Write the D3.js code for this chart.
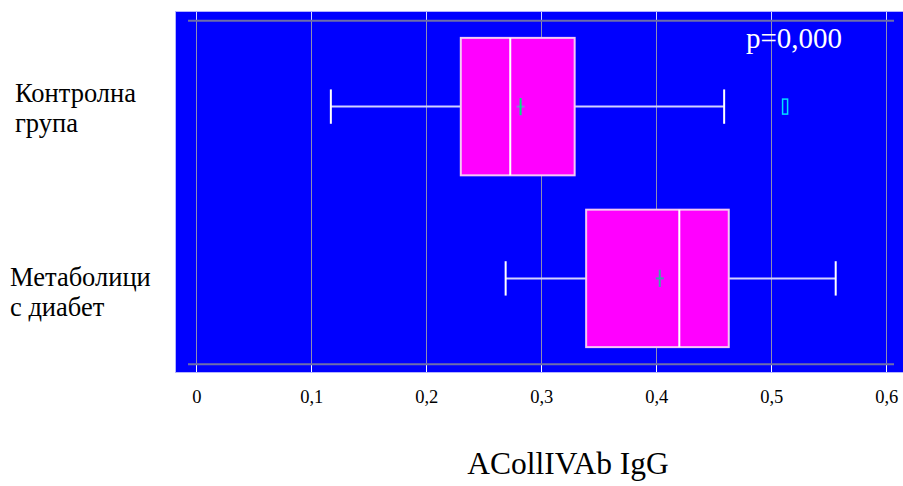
<!DOCTYPE html>
<html>
<head>
<meta charset="utf-8">
<script src="https://cdn.jsdelivr.net/npm/d3@7"></script>
<style>
  html, body { margin: 0; padding: 0; background: #ffffff; }
  svg { display: block; }
  text { font-family: "Liberation Serif", "DejaVu Serif", serif; }
</style>
</head>
<body>
<svg id="chart" width="903" height="486"></svg>
<script>
// Groups (one horizontal box per group), each label split over two lines
const groups = ["control", "diabetic"];
const groupLines = [["Контролна", "група"], ["Метаболици", "с диабет"]];

// Box-plot statistics per group
const whiskerLow  = [0.117, 0.269];
const quartile1   = [0.230, 0.339];
const medians     = [0.273, 0.420];
const quartile3   = [0.329, 0.463];
const whiskerHigh = [0.459, 0.556];
const means       = [0.282, 0.403];

// Outlying observations: [group index, value]
const outliers = [[0, 0.512]];

// Value axis
const xTicks = [0, 0.1, 0.2, 0.3, 0.4, 0.5, 0.6];
const xTitle = "ACollIVAb IgG";
const pText = "p=0,000";

const svg = d3.select("#chart");

const plot = { left: 175, top: 11, right: 903, bottom: 372 };

const x = d3.scaleLinear().domain([0, 0.6]).range([196.3, 886.3]);
const y = d3.scaleBand().domain(groups).range([20.7, 364.3]).padding(0);
const bw = y.bandwidth();
const boxH = bw * 0.8;
const capH = bw * 0.2;
const meanH = bw * 0.1;

// Plot background
svg.append("rect")
  .attr("x", plot.left + 0.5).attr("y", plot.top + 0.5)
  .attr("width", plot.right - plot.left).attr("height", plot.bottom - plot.top)
  .attr("fill", "#0000ff").attr("stroke", "#b4b4ff").attr("stroke-width", 1);

// Vertical gridlines with short white ticks at both ends
const grid = svg.append("g");
xTicks.forEach(t => {
  const xp = Math.round(x(t)) + 0.5;
  grid.append("line").attr("x1", xp).attr("x2", xp)
    .attr("y1", y.range()[0]).attr("y2", y.range()[1])
    .attr("stroke", "#8c8cb4").attr("stroke-width", 1);
  grid.append("line").attr("x1", xp).attr("x2", xp)
    .attr("y1", plot.top + 1).attr("y2", y.range()[0])
    .attr("stroke", "#d8d8ff").attr("stroke-width", 1);
  grid.append("line").attr("x1", xp).attr("x2", xp)
    .attr("y1", y.range()[1]).attr("y2", plot.bottom)
    .attr("stroke", "#ffffff").attr("stroke-width", 1);
});

// Horizontal frame lines bounding the categories
y.range().forEach(v => {
  grid.append("line").attr("x1", 188).attr("x2", 894)
    .attr("y1", v).attr("y2", v)
    .attr("stroke", "#6e6eaa").attr("stroke-width", 2);
});

// Axis tick labels (decimal comma)
const fmt = d => d === 0 ? "0" : d3.format(".1f")(d).replace(".", ",");
const xAxis = d3.axisBottom(x).tickValues(xTicks).tickFormat(fmt).tickSize(0).tickPadding(0);
const ax = svg.append("g").attr("transform", "translate(0,390)").call(xAxis);
ax.select(".domain").remove();
ax.selectAll("text")
  .attr("font-size", 18.5).attr("fill", "#000").attr("dy", "0.72em");

// Axis title
svg.append("text").attr("x", 568).attr("y", 474)
  .attr("text-anchor", "middle").attr("font-size", 31.5).attr("fill", "#000")
  .text(xTitle);

// Group labels
const labelIndent = [15, 10];
const labelBase = [-5, 8];
groups.forEach((g, i) => {
  const cy = y(g) + bw / 2;
  groupLines[i].forEach((line, j) => {
    svg.append("text")
      .attr("x", labelIndent[i]).attr("y", cy + labelBase[i] + j * 30)
      .attr("font-size", 26.5).attr("fill", "#000").text(line);
  });
});

// Boxes
const boxes = svg.append("g");
groups.forEach((g, i) => {
  const cy = y(g) + bw / 2;
  // whisker stems
  boxes.append("line").attr("x1", x(whiskerLow[i])).attr("x2", x(quartile1[i]))
    .attr("y1", cy).attr("y2", cy).attr("stroke", "#d2d2ff").attr("stroke-width", 2);
  boxes.append("line").attr("x1", x(quartile3[i])).attr("x2", x(whiskerHigh[i]))
    .attr("y1", cy).attr("y2", cy).attr("stroke", "#d2d2ff").attr("stroke-width", 2);
  // whisker caps
  [whiskerLow[i], whiskerHigh[i]].forEach(v => {
    boxes.append("line").attr("x1", x(v)).attr("x2", x(v))
      .attr("y1", cy - capH / 2).attr("y2", cy + capH / 2)
      .attr("stroke", "#ffffff").attr("stroke-width", 2);
  });
  // box
  boxes.append("rect")
    .attr("x", x(quartile1[i])).attr("y", cy - boxH / 2)
    .attr("width", x(quartile3[i]) - x(quartile1[i])).attr("height", boxH)
    .attr("fill", "#ff00ff").attr("stroke", "#f4c8f4").attr("stroke-width", 2);
  // median
  boxes.append("line").attr("x1", x(medians[i])).attr("x2", x(medians[i]))
    .attr("y1", cy - boxH / 2).attr("y2", cy + boxH / 2)
    .attr("stroke", "#ffffff").attr("stroke-width", 2);
  // mean marker
  const vCol = i === 0 ? "#00e080" : "#40a0a8";
  const hCol = i === 0 ? "#8c78d8" : "#40a0a8";
  boxes.append("line").attr("x1", x(means[i]) - 4).attr("x2", x(means[i]) + 4)
    .attr("y1", cy).attr("y2", cy).attr("stroke", hCol).attr("stroke-width", 2);
  boxes.append("line").attr("x1", x(means[i])).attr("x2", x(means[i]))
    .attr("y1", cy - meanH / 2).attr("y2", cy + meanH / 2)
    .attr("stroke", vCol).attr("stroke-width", 2);
});

// Outliers
outliers.forEach(([gi, v]) => {
  const cy = y(groups[gi]) + bw / 2;
  boxes.append("rect").attr("x", x(v) - 2.5).attr("y", cy - 7.5)
    .attr("width", 5).attr("height", 15)
    .attr("fill", "none").attr("stroke", "#00e0ff").attr("stroke-width", 1.5);
});

// Test result annotation
svg.append("text").attr("x", 746).attr("y", 48)
  .attr("font-size", 29).attr("fill", "#ffffff").text(pText);
</script>
</body>
</html>
